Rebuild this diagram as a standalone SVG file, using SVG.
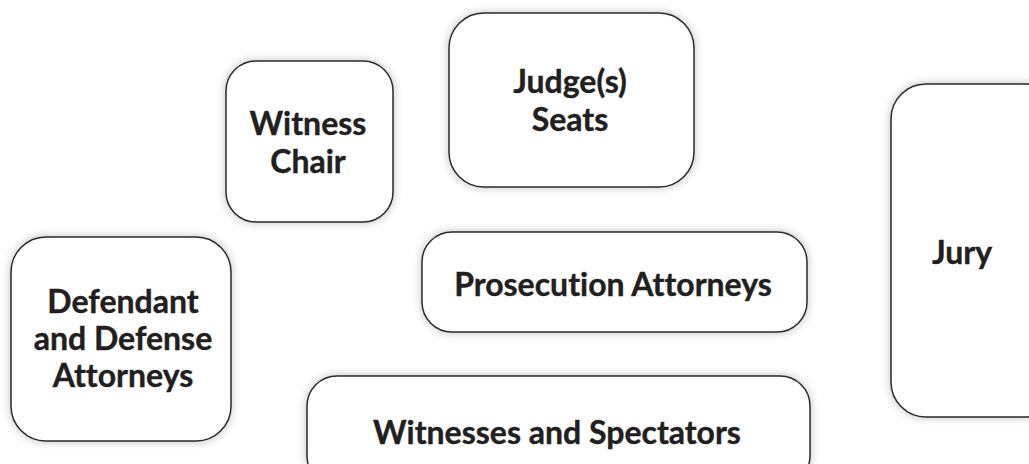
<svg xmlns="http://www.w3.org/2000/svg" width="1029" height="464" viewBox="0 0 1029 464">
<defs>
<filter id="sh" x="-20%" y="-20%" width="140%" height="140%">
<feGaussianBlur in="SourceAlpha" stdDeviation="5"/>
<feComponentTransfer><feFuncA type="linear" slope="0.25"/></feComponentTransfer>
<feMerge><feMergeNode/><feMergeNode in="SourceGraphic"/></feMerge>
</filter>
</defs>
<style>
.box{fill:#fff;stroke:#2a2a2a;stroke-width:1.5;filter:url(#sh)}
.t{font-family:Lato,"Open Sans","Liberation Sans",sans-serif;font-weight:bold;font-size:32px;fill:#231f20;text-anchor:middle;font-variant-ligatures:none;stroke:#231f20;stroke-width:0.4}
</style>
<rect width="1029" height="464" fill="#fff"/>
<g id="witness-chair">
<rect class="box" x="226" y="61" width="167" height="161" rx="30"/>
<text class="t" x="308" y="135">Witness</text>
<text class="t" x="308" y="173">Chair</text>
</g>
<g id="judge">
<rect class="box" x="449" y="13" width="245" height="174" rx="35"/>
<text class="t" x="570" y="93">Judge(s)</text>
<text class="t" x="570" y="131">Seats</text>
</g>
<g id="defendant">
<rect class="box" x="11" y="237" width="220" height="204" rx="35"/>
<text class="t" x="123" y="313">Defendant</text>
<text class="t" x="123" y="350">and Defense</text>
<text class="t" x="123" y="387">Attorneys</text>
</g>
<g id="prosecution">
<rect class="box" x="422" y="232" width="385" height="100" rx="30"/>
<text class="t" x="613" y="296">Prosecution Attorneys</text>
</g>
<g id="witnesses">
<rect class="box" x="307" y="376" width="503" height="110" rx="30"/>
<text class="t" x="557" y="444">Witnesses and Spectators</text>
</g>
<g id="jury">
<rect class="box" x="891" y="84" width="170" height="333" rx="35"/>
<text class="t" x="962" y="264">Jury</text>
</g>
<g id="connectors"></g>
</svg>
